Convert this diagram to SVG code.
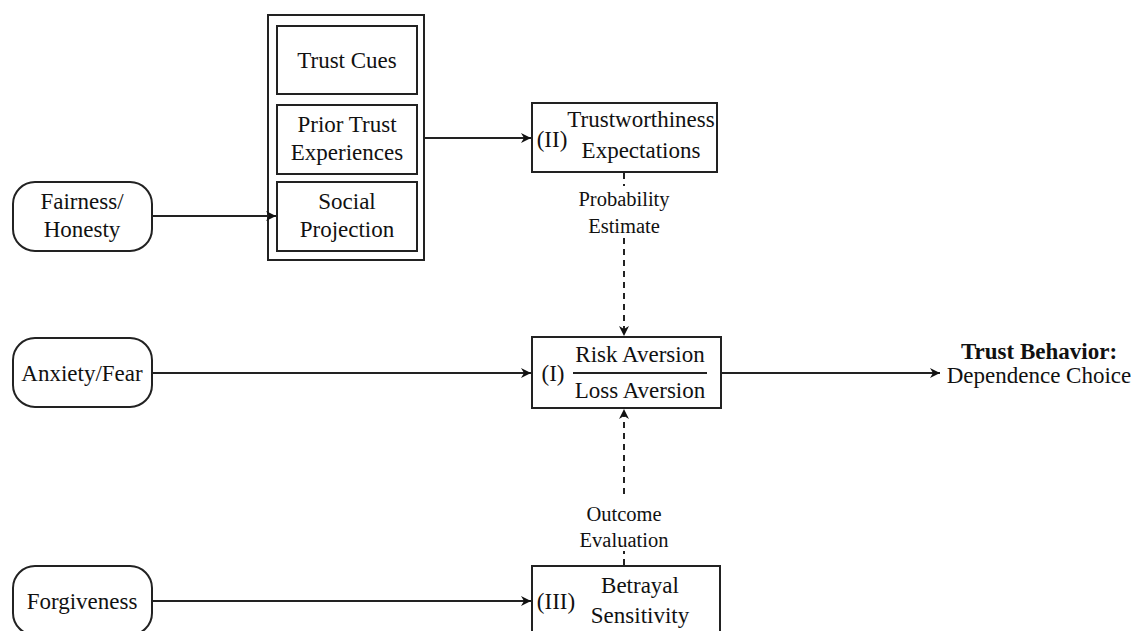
<svg xmlns="http://www.w3.org/2000/svg" width="1131" height="631" viewBox="0 0 1131 631">
<defs>
<style>
.box{fill:#fff;stroke:#222;stroke-width:2}
.t{font-family:"Liberation Serif","Times New Roman",serif;font-size:23px;fill:#111;text-anchor:middle}
.s{font-family:"Liberation Serif","Times New Roman",serif;font-size:20.5px;fill:#111;text-anchor:middle}
.ln{stroke:#222;stroke-width:2;fill:none}
.dash{stroke:#222;stroke-width:2;fill:none;stroke-dasharray:6,5}
</style>
<marker id="ah" viewBox="0 0 10 10" refX="10" refY="5" markerWidth="12" markerHeight="10" markerUnits="userSpaceOnUse" orient="auto">
<path d="M0,0 L10,5 L0,10 L3,5 Z" fill="#111"/>
</marker>
</defs>
<rect width="1131" height="631" fill="#fff"/>
<g id="group-box"><rect class="box" x="268" y="15" width="156" height="245"/></g>
<g id="trust-cues"><rect class="box" x="277" y="26" width="140" height="68"/><text class="t" x="347" y="68">Trust Cues</text></g>
<g id="prior-trust"><rect class="box" x="277" y="105" width="140" height="69"/><text class="t" x="347" y="132">Prior Trust</text><text class="t" x="347" y="160">Experiences</text></g>
<g id="social-projection"><rect class="box" x="277" y="182" width="140" height="69"/><text class="t" x="347" y="209">Social</text><text class="t" x="347" y="237">Projection</text></g>
<g id="fairness"><rect class="box" x="13" y="182" width="139" height="69" rx="22"/><text class="t" x="82" y="209">Fairness/</text><text class="t" x="82" y="237">Honesty</text></g>
<g id="anxiety"><rect class="box" x="13" y="338" width="139" height="69" rx="22"/><text class="t" x="82" y="381">Anxiety/Fear</text></g>
<g id="forgiveness"><rect class="box" x="13" y="566" width="139" height="69" rx="22"/><text class="t" x="82" y="609">Forgiveness</text></g>
<g id="trustworthiness"><rect class="box" x="532" y="103" width="185" height="69"/><text class="t" x="552" y="147">(II)</text><text class="t" x="641" y="127" font-size="22.5">Trustworthiness</text><text class="t" x="641" y="158">Expectations</text></g>
<g id="risk"><rect class="box" x="532" y="337" width="189" height="71"/><text class="t" x="553" y="381">(I)</text><text class="t" x="640" y="362">Risk Aversion</text><line class="ln" x1="573" y1="373" x2="707" y2="373"/><text class="t" x="640" y="398">Loss Aversion</text></g>
<g id="betrayal"><rect class="box" x="532" y="566" width="188" height="69"/><text class="t" x="556" y="609">(III)</text><text class="t" x="640" y="593">Betrayal</text><text class="t" x="640" y="623">Sensitivity</text></g>
<g id="trust-behavior"><text class="t" x="1039" y="359" font-weight="bold" font-size="22.5">Trust Behavior:</text><text class="t" x="1039" y="383" font-size="21.5">Dependence Choice</text></g>
<g id="connectors">
<line class="ln" x1="152" y1="216" x2="276" y2="216" marker-end="url(#ah)"/>
<line class="ln" x1="424" y1="138" x2="531" y2="138" marker-end="url(#ah)"/>
<line class="ln" x1="152" y1="373" x2="531" y2="373" marker-end="url(#ah)"/>
<line class="ln" x1="152" y1="601" x2="531" y2="601" marker-end="url(#ah)"/>
<line class="ln" x1="721" y1="373" x2="940" y2="373" marker-end="url(#ah)"/>
<line class="dash" x1="624" y1="173" x2="624" y2="186"/>
<line class="dash" x1="624" y1="238" x2="624" y2="336" marker-end="url(#ah)"/>
<line class="dash" x1="624" y1="565" x2="624" y2="551"/>
<line class="dash" x1="624" y1="494" x2="624" y2="409" marker-end="url(#ah)"/>
<text class="s" x="624" y="206">Probability</text>
<text class="s" x="624" y="233">Estimate</text>
<text class="s" x="624" y="521">Outcome</text>
<text class="s" x="624" y="547">Evaluation</text>
</g>
</svg>
